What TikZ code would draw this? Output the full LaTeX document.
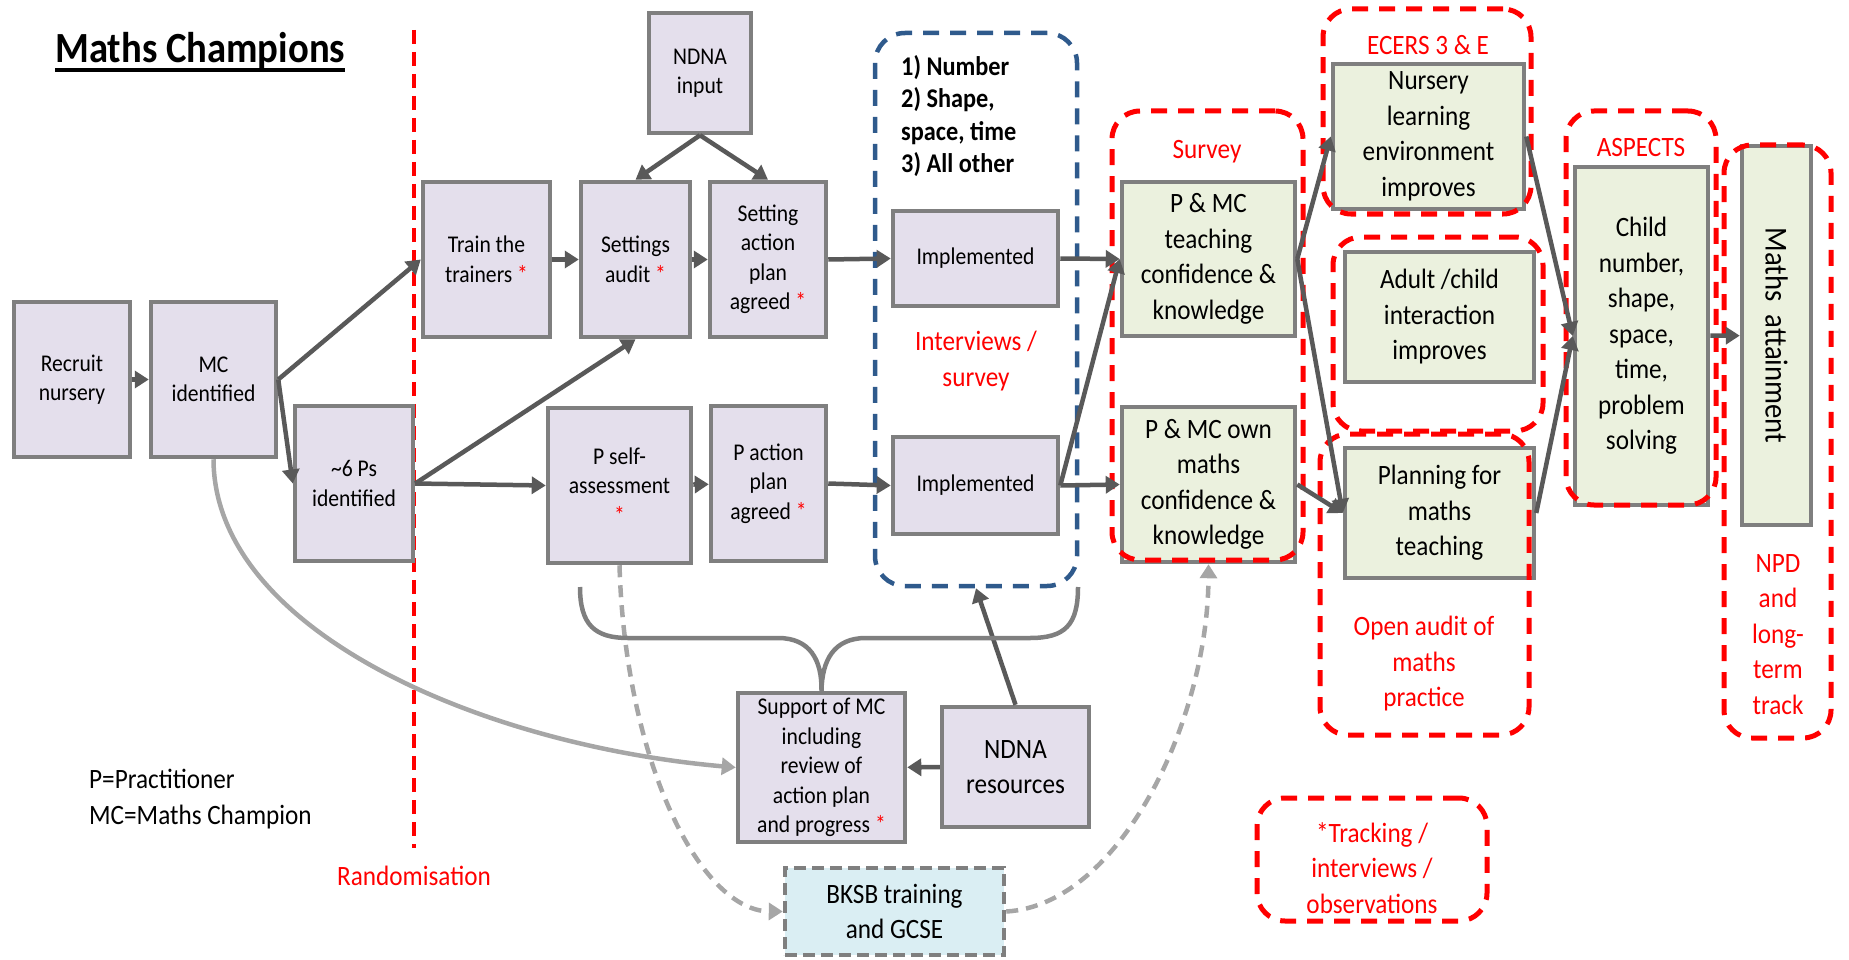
\documentclass[tikz,border=0pt]{standalone}
\usepackage{fontspec}
\setmainfont{Carlito}[FakeStretch=0.9]
\usepackage{tikz}
\usetikzlibrary{arrows.meta}
\usepackage{xcolor}
\definecolor{lilac}{HTML}{E4DFEC}
\definecolor{sage}{HTML}{EBF1DE}
\definecolor{frame}{HTML}{7F7F7F}
\definecolor{ink}{HTML}{595959}
\definecolor{pale}{HTML}{A6A6A6}
\definecolor{navy}{HTML}{2F5A8C}
\definecolor{ice}{HTML}{DAEEF3}
\newcommand{\boxfont}{\fontsize{24}{29.5}\selectfont}
\newcommand{\bigfont}{\fontsize{28}{35.5}\selectfont}
\newcommand{\rs}{\textcolor{red}{*}}
\tikzstyle{ptask}=[draw=frame,line width=4.5,fill=lilac,align=center,font=\boxfont,inner sep=2]
\tikzstyle{outcome}=[ptask,fill=sage,font=\bigfont]
\tikzstyle{measure}=[draw=red,line width=5,dash pattern=on 16pt off 11pt,rounded corners=28,inner sep=0]
\tikzstyle{note}=[text=red,font=\bigfont,align=center,inner sep=0]
\tikzstyle{flow}=[color=ink,line width=4.5,-{Triangle[length=14pt,width=17pt]}]
\tikzstyle{soft}=[color=pale,line width=4.5,-{Triangle[length=14pt,width=17pt]}]
\tikzstyle{softdash}=[soft,dash pattern=on 12pt off 8pt]

\begin{document}
\begin{tikzpicture}[x=1pt,y=-1pt]
  \useasboundingbox (0,0) rectangle (1849,960);

  % TITLE & KEY
  \node[anchor=base west,inner sep=0,font=\fontsize{43}{50}\selectfont\bfseries] (title) at (55,63) {Maths Champions};
  \draw[line width=3.3] ([yshift=-7pt]title.base west) -- ([yshift=-7pt]title.base east);
  \node[anchor=north west,align=left,inner sep=0,font=\bigfont] (key) at (89,769) {P=Practitioner\\MC=Maths Champion};
  \node[note,anchor=base] (rand) at (414,885) {Randomisation};
  \draw[red,line width=3.5,dash pattern=on 14pt off 8pt] (414,30) -- (414,848);

  % RECRUITMENT
  \node[ptask,minimum width=116,minimum height=155] (recruit) at (72,379.5) {Recruit\\nursery};
  \node[ptask,minimum width=125,minimum height=155] (mc) at (213.5,379.5) {MC\\identified};
  \node[ptask,minimum width=118,minimum height=155] (sixps) at (354,483.5) {\textasciitilde6 Ps\\identified};

  % TRAINING & PLANS
  \node[ptask,minimum width=127,minimum height=155] (train) at (486.5,259.5) {Train the\\trainers \rs};
  \node[ptask,minimum width=109,minimum height=155] (audit) at (635.5,259.5) {Settings\\audit \rs};
  \node[ptask,minimum width=102,minimum height=120] (ndnain) at (700,73) {NDNA\\input};
  \node[ptask,minimum width=116,minimum height=155] (plan) at (768,259.5) {Setting\\action\\plan\\agreed \rs};
  \node[ptask,minimum width=143,minimum height=155] (pself) at (619.5,485.5) {P self-\\assessment\\\rs};
  \node[ptask,minimum width=115,minimum height=155] (paction) at (768.5,483.5) {P action\\plan\\agreed \rs};
  \node[ptask,minimum width=165,minimum height=95] (imp1) at (975.5,258.5) {Implemented};
  \node[ptask,minimum width=165,minimum height=97] (imp2) at (975.5,485.5) {Implemented};

  % SUPPORT
  \node[ptask,minimum width=167,minimum height=149] (support) at (821.5,767.5) {Support of MC\\including\\review of\\action plan\\and progress \rs};
  \node[ptask,font=\bigfont,minimum width=147,minimum height=120] (ndnares) at (1015.5,767) {NDNA\\resources};
  \node[ptask,font=\bigfont,fill=ice,dash pattern=on 12pt off 6pt,minimum width=219,minimum height=87] (bksb) at (894.5,911.5) {BKSB training\\and GCSE};

  % OUTCOMES
  \node[outcome,minimum width=173,minimum height=154] (teach) at (1208.5,259) {P \& MC\\teaching\\confidence \&\\knowledge};
  \node[outcome,minimum width=173,minimum height=155] (own) at (1208.5,484.5) {P \& MC own\\maths\\confidence \&\\knowledge};
  \node[outcome,minimum width=191,minimum height=145] (nursery) at (1428.5,136.5) {Nursery\\learning\\environment\\improves};
  \node[outcome,minimum width=189,minimum height=130] (adult) at (1439.5,317) {Adult /child\\interaction\\improves};
  \node[outcome,minimum width=189,minimum height=130] (planning) at (1439.5,513) {Planning for\\maths\\teaching};
  \node[outcome,minimum width=133,minimum height=338] (child) at (1641.5,336) {Child\\number,\\shape,\\space,\\time,\\problem\\solving};
  \node[outcome,rotate=-90,font=\fontsize{32}{38}\selectfont,minimum width=379,minimum height=69] (attain) at (1776.5,335.5) {Maths\ \ attainment};

  % MEASURES
  \node[measure,draw=navy,line width=4.5,rounded corners=30,minimum width=202,minimum height=553] (topics) at (976,309.5) {};
  \node[measure,minimum width=191,minimum height=449] (surveyr) at (1207.5,335.5) {};
  \node[measure,minimum width=208,minimum height=205] (ecersr) at (1427,111.5) {};
  \node[measure,minimum width=210,minimum height=194] (adultr) at (1438,334) {};
  \node[measure,minimum width=209,minimum height=301] (auditr) at (1424.5,584.5) {};
  \node[measure,minimum width=150,minimum height=394] (aspectr) at (1641,308) {};
  \node[measure,minimum width=107,minimum height=593] (npdr) at (1777.5,441.5) {};
  \node[measure,minimum width=230,minimum height=123] (trackr) at (1372,859.5) {};

  \node[anchor=north west,align=left,inner sep=0,font=\fontsize{27}{32.5}\selectfont\bfseries] (topiclist) at (901,55) {1) Number\\2) Shape,\\space, time\\3) All other};
  \node[note,anchor=north] (ivlabel) at (976,331) {Interviews /\\survey};
  \node[note,anchor=base] (surveylabel) at (1207,159) {Survey};
  \node[note,anchor=base] (ecerslabel) at (1428,55) {ECERS 3 \& E};
  \node[note,anchor=base] (aspectslabel) at (1641,157) {ASPECTS};
  \node[note,anchor=north] (auditlabel) at (1424,616) {Open audit of\\maths\\practice};
  \node[note,anchor=north] (npdlabel) at (1778,554) {NPD\\and\\long-\\term\\track};
  \node[note,anchor=north] (tracklabel) at (1372,822) {*Tracking /\\interviews /\\observations};

  % ARROWS
  \draw[flow] (recruit) -- (mc);
  \draw[flow] (mc.east) -- (train.west);
  \draw[flow] (mc.east) -- (sixps.west);
  \draw[flow] (train) -- (audit);
  \draw[flow] (audit) -- (plan);
  \draw[flow] (ndnain.south) -- (audit.north);
  \draw[flow] (ndnain.south) -- (plan.north);
  \draw[flow] (plan.east) -- (imp1.west);
  \draw[flow] (sixps.east) -- (audit.south);
  \draw[flow] (sixps.east) -- (pself.west);
  \draw[flow] (pself) -- (paction);
  \draw[flow] (paction.east) -- (imp2.west);
  \draw[flow] (imp1.east) -- (teach.west);
  \draw[flow] (imp2.east) -- (teach.west);
  \draw[flow] (imp2.east) -- (own.west);
  \draw[flow] (teach.east) -- (nursery.west);
  \draw[flow] (teach.east) -- (planning.west);
  \draw[flow] (own.east) -- (planning.west);
  \draw[flow] (nursery.east) -- (child.west);
  \draw[flow] (planning.east) -- (child.west);
  \draw[flow] (child) -- (attain);
  \draw[flow] (ndnares) -- (support);
  \draw[flow] (ndnares.north) -- (topics.south);
  \draw[soft] (mc.south) .. controls (214,630) and (480,745) .. (support.west);
  \draw[softdash] (pself.south) .. controls (625,760) and (700,911) .. (bksb.west);
  \draw[softdash] (bksb.east) .. controls (1120,905) and (1208,720) .. (own.south);

  % BRACE
  \coordinate (braceL) at (580,587);
  \coordinate (braceR) at (1078,587);
  \draw[color=frame,line width=4.5] (braceL) .. controls (580,625) and (595,638) .. (628,638) -- (778,638)
    .. controls (810,638) and (822,660) .. (support.north)
    .. controls (822,660) and (834,638) .. (866,638) -- (1030,638)
    .. controls (1065,638) and (1078,625) .. (braceR);
\end{tikzpicture}
\end{document}
